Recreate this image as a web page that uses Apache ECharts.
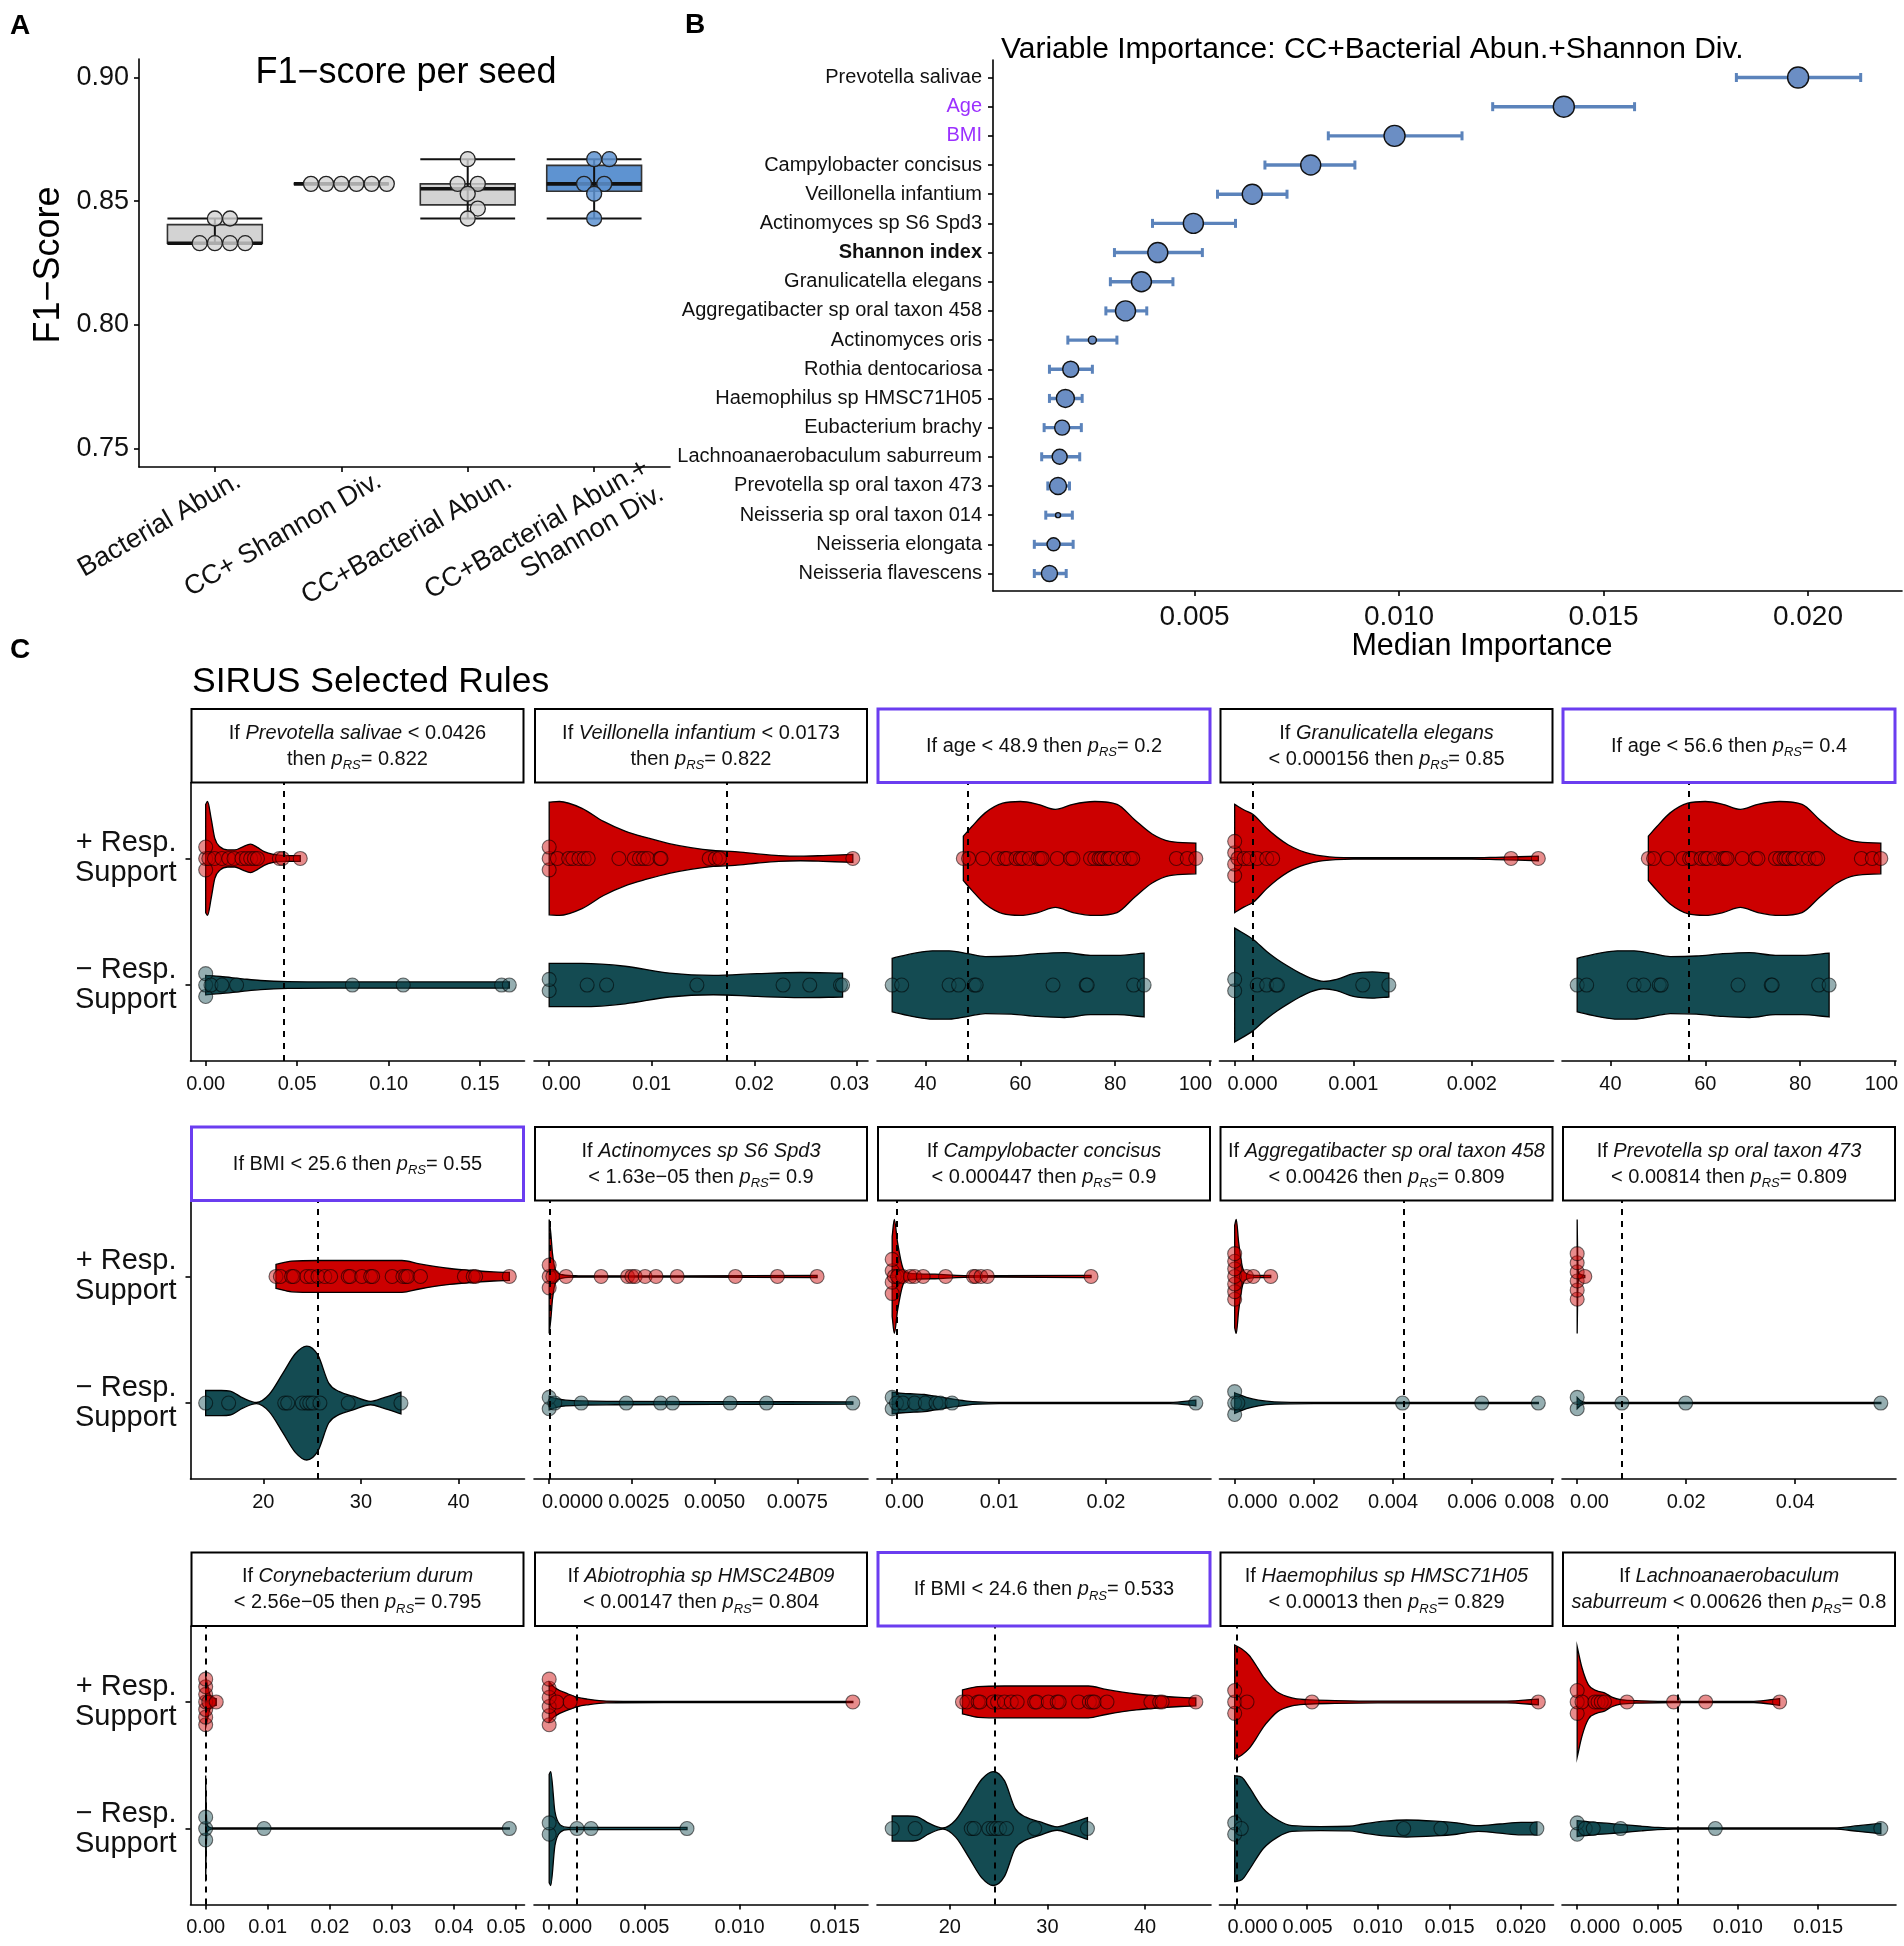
<!DOCTYPE html>
<html>
<head>
<meta charset="utf-8">
<script src="https://cdn.jsdelivr.net/npm/echarts@6.0.0/dist/echarts.min.js"></script>
<style>
html, body { margin: 0; padding: 0; background: #fff; }
#main { width: 1904px; height: 1946px; }
</style>
</head>
<body>
<div id="main"></div>
<script>
// ---------- panel A : F1-score per seed ----------
var modelNames = ['Bacterial Abun.', 'CC+ Shannon Div.', 'CC+Bacterial Abun.', 'CC+Bacterial Abun.+\nShannon Div.'];
var f1Bact = [0.843, 0.843, 0.833, 0.833, 0.833, 0.833];
var f1Shannon = [0.857, 0.857, 0.857, 0.857, 0.857, 0.857];
var f1CcBact = [0.867, 0.857, 0.857, 0.853, 0.847, 0.843];
var f1All = [0.867, 0.867, 0.857, 0.857, 0.853, 0.843];
var f1Jitter = [
  [0, 0.12, -0.12, 0, 0.12, 0.24],
  [-0.24, -0.12, 0, 0.12, 0.24, 0.36],
  [0, -0.08, 0.08, 0, 0.08, 0],
  [0, 0.12, -0.08, 0.08, 0, 0]
];
var f1Limits = [0.75, 0.90];
var f1Ticks = [0.75, 0.80, 0.85, 0.90];

// ---------- panel B : variable importance ----------
var impNames = ['Prevotella salivae', 'Age', 'BMI', 'Campylobacter concisus', 'Veillonella infantium',
  'Actinomyces sp S6 Spd3', 'Shannon index', 'Granulicatella elegans', 'Aggregatibacter sp oral taxon 458',
  'Actinomyces oris', 'Rothia dentocariosa', 'Haemophilus sp HMSC71H05', 'Eubacterium brachy',
  'Lachnoanaerobaculum saburreum', 'Prevotella sp oral taxon 473', 'Neisseria sp oral taxon 014',
  'Neisseria elongata', 'Neisseria flavescens'];
var impMedian = [0.01976, 0.01403, 0.00989, 0.00784, 0.00641, 0.00497, 0.0041, 0.0037, 0.00331,
  0.0025, 0.00197, 0.00184, 0.00176, 0.0017, 0.00166, 0.00166, 0.00155, 0.00145];
var impLow = [0.01825, 0.01229, 0.00827, 0.00672, 0.00556, 0.00397, 0.00304, 0.00294, 0.00283,
  0.0019, 0.00145, 0.00145, 0.00132, 0.00126, 0.00141, 0.00136, 0.00108, 0.00108];
var impHigh = [0.02129, 0.01576, 0.01154, 0.00892, 0.00726, 0.0060, 0.00519, 0.00447, 0.00383,
  0.0031, 0.0025, 0.00225, 0.00223, 0.00219, 0.00194, 0.00201, 0.00203, 0.00186];
var impDotSize = [21, 21, 21, 20, 20, 20, 20, 20, 20, 8, 16, 18, 15, 15, 17, 5, 13, 16];
var impTicks = [0.005, 0.010, 0.015, 0.020];
var clinicalVars = ['Age', 'BMI'];
var diversityVars = ['Shannon index'];

// ---------- panel C : SIRUS rules (values of + / - responders, violin outlines as [x, relative width]) ----------
var prevSalPos = [0, 0, 0, 0.0017, 0.0048, 0.0089, 0.0126, 0.0155, 0.0198, 0.0222, 0.0246, 0.0266, 0.0283, 0.0403, 0.042, 0.0517];
var prevSalPosShape = [[0, 0.95], [0.001, 1.0], [0.003, 0.7], [0.005, 0.35], [0.008, 0.2], [0.012, 0.15], [0.016, 0.15], [0.020, 0.2], [0.0245, 0.25], [0.028, 0.2], [0.032, 0.12], [0.037, 0.07], [0.043, 0.05], [0.0517, 0.05]];
var prevSalNeg = [0, 0, 0, 0.0029, 0.0089, 0.0169, 0.0802, 0.108, 0.1618, 0.166];
var prevSalNegShape = [[0, 0.17], [0.008, 0.15], [0.02, 0.11], [0.03, 0.08], [0.045, 0.06], [0.07, 0.055], [0.166, 0.055]];

var veiInfPos = [0, 0, 0, 0.0008, 0.0019, 0.0023, 0.0029, 0.0034, 0.0038, 0.0068, 0.0083, 0.0088, 0.0092, 0.0096, 0.0108, 0.0109, 0.0156, 0.0162, 0.0166, 0.0296];
var veiInfPosShape = [[0, 0.99], [0.001, 1.0], [0.0032, 0.88], [0.0053, 0.65], [0.0074, 0.48], [0.0096, 0.36], [0.0117, 0.26], [0.0138, 0.19], [0.016, 0.14], [0.0181, 0.12], [0.0203, 0.08], [0.0224, 0.05], [0.0245, 0.04], [0.0267, 0.05], [0.0296, 0.07]];
var veiInfNeg = [0, 0, 0.0037, 0.0056, 0.0144, 0.0228, 0.0254, 0.0284, 0.0286];
var veiInfNegShape = [[0, 0.38], [0.0032, 0.38], [0.0074, 0.33], [0.0117, 0.21], [0.016, 0.17], [0.0203, 0.2], [0.0245, 0.22], [0.0286, 0.21]];

var agePos = [48.0, 49.1, 52.1, 55.3, 56.7, 57.2, 59.1, 60, 60.5, 61.9, 63.7, 64.2, 64.6, 67.8, 70.6, 71.1, 74.8, 75.7, 76.6, 77.0, 77.6, 78.5, 78.9, 80.4, 81.8, 83.2, 83.7, 92.9, 95.2, 97.0];
var agePosShape = [[48, 0.39], [49.8, 0.56], [52.6, 0.8], [56.3, 0.97], [60, 1.0], [63.7, 0.95], [67.4, 0.86], [71.1, 0.95], [75.7, 1.0], [80.4, 0.95], [84.1, 0.68], [87.8, 0.43], [91.5, 0.3], [97, 0.27]];
var ageNeg = [33.0, 35.0, 45.0, 47.0, 50.3, 50.7, 66.9, 73.9, 74.1, 83.9, 86.1];
var ageNegShape = [[33, 0.47], [37.8, 0.56], [41.5, 0.6], [45, 0.6], [49, 0.55], [52.6, 0.5], [58.1, 0.51], [63.7, 0.55], [69.3, 0.57], [74.8, 0.52], [80.4, 0.52], [86.1, 0.56]];

var graElePos = [0, 0, 0, 0, 0.000026, 0.00008, 0.00012, 0.00019, 0.00027, 0.00032, 0.00233, 0.00256];
var graElePosShape = [[0, 0.95], [0.00008, 0.85], [0.000156, 0.77], [0.00027, 0.53], [0.00036, 0.37], [0.00045, 0.24], [0.00055, 0.14], [0.00064, 0.08], [0.00075, 0.04], [0.00085, 0.02], [0.001, 0.012], [0.002, 0.012], [0.0022, 0.02], [0.00256, 0.04]];
var graEleNeg = [0, 0, 0.00019, 0.00027, 0.00035, 0.00036, 0.00108, 0.0013];
var graEleNegShape = [[0, 1.0], [0.000156, 0.8], [0.00027, 0.59], [0.00036, 0.45], [0.00045, 0.33], [0.00055, 0.21], [0.00064, 0.12], [0.00075, 0.065], [0.00086, 0.1], [0.001, 0.2], [0.00116, 0.23], [0.0013, 0.21]];

var bmiPos = [21.3, 21.75, 22.9, 23.1, 24.45, 24.9, 25.6, 26.3, 26.9, 28.7, 28.9, 30.1, 31.0, 31.2, 33.2, 34.3, 34.6, 34.8, 36.1, 40.6, 41.5, 41.75, 45.2];
var bmiPosShape = [[21.3, 0.21], [22.9, 0.27], [25.6, 0.28], [30.1, 0.28], [34.2, 0.28], [36, 0.22], [39.1, 0.14], [41.8, 0.1], [43.6, 0.08], [45.2, 0.07]];
var bmiNeg = [14.1, 16.45, 22.2, 22.5, 24.0, 24.45, 24.76, 25.1, 25.8, 28.7, 34.1];
var bmiNegShape = [[14.1, 0.22], [15.7, 0.22], [16.6, 0.21], [17.9, 0.09], [19.3, 0.01], [20.6, 0.15], [22, 0.52], [23.3, 0.87], [24.45, 1.0], [25.6, 0.84], [26.7, 0.35], [27.8, 0.2], [29.2, 0.12], [31, 0.03], [32.3, 0.09], [34.1, 0.19]];

var actS6Pos = [0, 0, 0, 0.00011, 0.00051, 0.00157, 0.00237, 0.0025, 0.0026, 0.0029, 0.00323, 0.00387, 0.00563, 0.0069, 0.0081];
var actS6PosShape = [[0, 1.0], [0.00005, 0.75], [0.0001, 0.4], [0.0002, 0.1], [0.0004, 0.03], [0.0008, 0.012], [0.004, 0.01], [0.0081, 0.02]];
var actS6Neg = [0, 0, 0.00017, 0.00097, 0.00233, 0.00337, 0.00373, 0.00547, 0.00657, 0.00918];
var actS6NegShape = [[0, 0.12], [0.0002, 0.08], [0.0005, 0.05], [0.002, 0.03], [0.005, 0.025], [0.00918, 0.02]];

var camConPos = [0, 0, 0, 0, 0.0002, 0.0005, 0.001, 0.0017, 0.0021, 0.0029, 0.005, 0.0076, 0.0078, 0.0083, 0.0089, 0.0186];
var camConPosShape = [[0, 0.7], [0.0002, 1.0], [0.0005, 0.6], [0.001, 0.15], [0.0015, 0.06], [0.004, 0.04], [0.006, 0.02], [0.01, 0.012], [0.0186, 0.02]];
var camConNeg = [0, 0, 0.0004, 0.001, 0.0021, 0.0031, 0.0041, 0.0045, 0.0056, 0.0284];
var camConNegShape = [[0, 0.19], [0.001, 0.17], [0.002, 0.16], [0.003, 0.15], [0.004, 0.12], [0.005, 0.09], [0.006, 0.06], [0.007, 0.035], [0.008, 0.02], [0.01, 0.01], [0.026, 0.01], [0.0284, 0.05]];

var aggOtPos = [0, 0, 0, 0, 0, 0, 0, 0.0003, 0.00047, 0.00091];
var aggOtPosShape = [[0, 0.9], [0.00004, 1.0], [0.0001, 0.6], [0.0002, 0.15], [0.0003, 0.05], [0.0005, 0.02], [0.00091, 0.02]];
var aggOtNeg = [0, 0, 0, 0.00008, 0.00424, 0.00624, 0.00767];
var aggOtNegShape = [[0, 0.18], [0.0003, 0.1], [0.0006, 0.05], [0.001, 0.02], [0.002, 0.01], [0.00767, 0.01]];

var prevOtPos = [0, 0, 0, 0, 0, 0, 0.0014];
var prevOtPosShape = [[0, 1.0], [0.0001, 0.3], [0.0003, 0.05], [0.0014, 0.02]];
var prevOtNeg = [0, 0, 0.0082, 0.0199, 0.0557];
var prevOtNegShape = [[0, 0.1], [0.0005, 0.05], [0.0015, 0.01], [0.0557, 0.01]];

var coryDurPos = [0, 0, 0, 0, 0, 0, 0, 0.0005, 0.0017];
var coryDurPosShape = [[0, 0.45], [0.0003, 0.3], [0.0008, 0.1], [0.0017, 0.06]];
var coryDurNeg = [0, 0, 0, 0.0094, 0.0489];
var coryDurNegShape = [[0, 0.93], [0.0001, 0.3], [0.0003, 0.05], [0.001, 0.01], [0.0489, 0.01]];

var abiHmPos = [0, 0, 0, 0, 0, 0, 0.0004, 0.0011, 0.01595];
var abiHmPosShape = [[0, 0.35], [0.0003, 0.25], [0.001, 0.14], [0.0015, 0.08], [0.002, 0.05], [0.003, 0.015], [0.006, 0.01], [0.01595, 0.01]];
var abiHmNeg = [0, 0, 0.00146, 0.0022, 0.00724];
var abiHmNegShape = [[0, 0.95], [0.00008, 1.0], [0.0003, 0.3], [0.0006, 0.06], [0.001, 0.02], [0.00724, 0.02]];

var haeHmPos = [0, 0, 0, 0.00086, 0.0054, 0.0212];
var haeHmPosShape = [[0, 1.0], [0.0005, 0.93], [0.001, 0.82], [0.0015, 0.64], [0.002, 0.44], [0.0025, 0.29], [0.003, 0.17], [0.004, 0.07], [0.005, 0.04], [0.007, 0.025], [0.01, 0.015], [0.019, 0.015], [0.0212, 0.05]];
var haeHmNeg = [0, 0, 0.00046, 0.0118, 0.0144, 0.0211];
var haeHmNegShape = [[0, 0.93], [0.0005, 0.9], [0.001, 0.73], [0.002, 0.35], [0.003, 0.15], [0.004, 0.05], [0.006, 0.035], [0.008, 0.04], [0.009, 0.08], [0.0105, 0.13], [0.012, 0.15], [0.014, 0.13], [0.0155, 0.1], [0.017, 0.05], [0.0185, 0.08], [0.02, 0.11], [0.0211, 0.11]];

var lacSabPos = [0, 0, 0, 0.0003, 0.0011, 0.0013, 0.0015, 0.0017, 0.0031, 0.006, 0.008, 0.0126];
var lacSabPosShape = [[0, 0.97], [0.0003, 0.6], [0.0007, 0.3], [0.0012, 0.2], [0.0017, 0.16], [0.0022, 0.08], [0.0027, 0.04], [0.004, 0.02], [0.006, 0.01], [0.011, 0.01], [0.0126, 0.06]];
var lacSabNeg = [0, 0, 0.0005, 0.001, 0.0027, 0.0086, 0.0189];
var lacSabNegShape = [[0, 0.14], [0.001, 0.11], [0.002, 0.09], [0.003, 0.065], [0.004, 0.04], [0.005, 0.02], [0.006, 0.01], [0.016, 0.01], [0.0175, 0.05], [0.0189, 0.09]];

var ruleVars = ['prevSal', 'veiInf', 'age', 'graEle', 'age', 'bmi', 'actS6', 'camCon', 'aggOt', 'prevOt', 'coryDur', 'abiHm', 'bmi', 'haeHm', 'lacSab'];
var ruleThreshold = [0.0426, 0.0173, 48.9, 0.000156, 56.6, 25.6, 0.0000163, 0.000447, 0.00426, 0.00814, 0.0000256, 0.00147, 24.6, 0.00013, 0.00626];
var ruleText = [
  'If {i|Prevotella salivae} < 0.0426\nthen {i|p}{s|RS}= 0.822',
  'If {i|Veillonella infantium} < 0.0173\nthen {i|p}{s|RS}= 0.822',
  'If age < 48.9 then {i|p}{s|RS}= 0.2',
  'If {i|Granulicatella elegans}\n< 0.000156 then {i|p}{s|RS}= 0.85',
  'If age < 56.6 then {i|p}{s|RS}= 0.4',
  'If BMI < 25.6 then {i|p}{s|RS}= 0.55',
  'If {i|Actinomyces sp S6 Spd3}\n< 1.63e\u221205 then {i|p}{s|RS}= 0.9',
  'If {i|Campylobacter concisus}\n< 0.000447 then {i|p}{s|RS}= 0.9',
  'If {i|Aggregatibacter sp oral taxon 458}\n< 0.00426 then {i|p}{s|RS}= 0.809',
  'If {i|Prevotella sp oral taxon 473}\n< 0.00814 then {i|p}{s|RS}= 0.809',
  'If {i|Corynebacterium durum}\n< 2.56e\u221205 then {i|p}{s|RS}= 0.795',
  'If {i|Abiotrophia sp HMSC24B09}\n< 0.00147 then {i|p}{s|RS}= 0.804',
  'If BMI < 24.6 then {i|p}{s|RS}= 0.533',
  'If {i|Haemophilus sp HMSC71H05}\n< 0.00013 then {i|p}{s|RS}= 0.829',
  'If {i|Lachnoanaerobaculum}\n{i|saburreum} < 0.00626 then {i|p}{s|RS}= 0.8'
];
var ruleClinical = [false, false, true, false, true, true, false, false, false, false, false, false, true, false, false];
var ruleTicks = [
  [0, 0.05, 0.10, 0.15], [0, 0.01, 0.02, 0.03], [40, 60, 80, 100], [0, 0.001, 0.002], [40, 60, 80, 100],
  [20, 30, 40], [0, 0.0025, 0.005, 0.0075], [0, 0.01, 0.02], [0, 0.002, 0.004, 0.006, 0.008], [0, 0.02, 0.04],
  [0, 0.01, 0.02, 0.03, 0.04, 0.05], [0, 0.005, 0.010, 0.015], [20, 30, 40], [0, 0.005, 0.010, 0.015, 0.020], [0, 0.005, 0.010, 0.015]
];
var ruleDecimals = [2, 2, 0, 3, 0, 0, 4, 2, 3, 2, 2, 3, 0, 3, 3];
var supportLabels = ['\u2212 Resp.\nSupport', '+ Resp.\nSupport'];

var violins = {
  prevSal: [prevSalNeg, prevSalNegShape, prevSalPos, prevSalPosShape],
  veiInf: [veiInfNeg, veiInfNegShape, veiInfPos, veiInfPosShape],
  age: [ageNeg, ageNegShape, agePos, agePosShape],
  graEle: [graEleNeg, graEleNegShape, graElePos, graElePosShape],
  bmi: [bmiNeg, bmiNegShape, bmiPos, bmiPosShape],
  actS6: [actS6Neg, actS6NegShape, actS6Pos, actS6PosShape],
  camCon: [camConNeg, camConNegShape, camConPos, camConPosShape],
  aggOt: [aggOtNeg, aggOtNegShape, aggOtPos, aggOtPosShape],
  prevOt: [prevOtNeg, prevOtNegShape, prevOtPos, prevOtPosShape],
  coryDur: [coryDurNeg, coryDurNegShape, coryDurPos, coryDurPosShape],
  abiHm: [abiHmNeg, abiHmNegShape, abiHmPos, abiHmPosShape],
  haeHm: [haeHmNeg, haeHmNegShape, haeHmPos, haeHmPosShape],
  lacSab: [lacSabNeg, lacSabNegShape, lacSabPos, lacSabPosShape]
};

// ---------- style ----------
var FONT = 'Liberation Sans, Arial, Helvetica, sans-serif';
var RED = '#CC0000', TEAL = '#144B52';
var GREY = '#D3D3D3', BLUE = '#5E93D1';
var DOT = '#6B8EC4', BAR = '#5B83BB';
var PURPLE_TXT = '#9B30FF', PURPLE_BOX = '#6B3DF0';
var VMAX = 0.45;
var colLeft = [190.5, 534, 877, 1219.5, 1562], colWidth = 334;
var stripTop = [708, 1126, 1551.5], stripH = 74.5, plotH = 278.5;
var f1LabelShift = [24, 38, 42, 60];   // px, rotated label anchor offset to the right of each tick

var measureCtx = document.createElement('canvas').getContext('2d');
function textWidth(txt, size) { measureCtx.font = size + 'px ' + FONT; return measureCtx.measureText(txt).width; }

function axisLine(show) { return { show: show, onZero: false, lineStyle: { color: '#000', width: 1.6 } }; }
function axisTick(show, vals) { return { show: show, length: 5, customValues: vals, lineStyle: { color: '#000', width: 1.6 } }; }

function quantile(arr, p) {
  var s = arr.slice().sort(function (a, b) { return a - b; });
  var h = (s.length - 1) * p, lo = Math.floor(h);
  return lo + 1 < s.length ? s[lo] + (h - lo) * (s[lo + 1] - s[lo]) : s[lo];
}
function boxStats(arr) {
  var q1 = quantile(arr, 0.25), q3 = quantile(arr, 0.75), iqr = q3 - q1;
  var inRange = arr.filter(function (v) { return v >= q1 - 1.5 * iqr && v <= q3 + 1.5 * iqr; });
  return [Math.min.apply(null, inRange), q1, quantile(arr, 0.5), q3, Math.max.apply(null, inRange)];
}

// monotone cubic segments through pixel points
function monoSegs(pts) {
  var n = pts.length, d = [], m = [], i;
  for (i = 0; i < n - 1; i++) d.push((pts[i + 1][1] - pts[i][1]) / (pts[i + 1][0] - pts[i][0]));
  m[0] = d[0]; m[n - 1] = d[n - 2];
  for (i = 1; i < n - 1; i++) m[i] = (d[i - 1] * d[i] <= 0) ? 0 : (d[i - 1] + d[i]) / 2;
  for (i = 0; i < n - 1; i++) {
    if (d[i] === 0) { m[i] = 0; m[i + 1] = 0; continue; }
    var a = m[i] / d[i], b = m[i + 1] / d[i], s = a * a + b * b;
    if (s > 9) { var t = 3 / Math.sqrt(s); m[i] = t * a * d[i]; m[i + 1] = t * b * d[i]; }
  }
  var segs = [];
  for (i = 0; i < n - 1; i++) {
    var h = pts[i + 1][0] - pts[i][0];
    segs.push([pts[i], [pts[i][0] + h / 3, pts[i][1] + m[i] * h / 3], [pts[i + 1][0] - h / 3, pts[i + 1][1] - m[i + 1] * h / 3], pts[i + 1]]);
  }
  return segs;
}
function violinPath(shape, yc, api) {
  var top = [], bot = [];
  shape.forEach(function (p) {
    var a = api.coord([p[0], yc + p[1] * VMAX]), b = api.coord([p[0], yc - p[1] * VMAX]);
    if (top.length && a[0] - top[top.length - 1][0] < 0.3) return;
    var mid = (a[1] + b[1]) / 2, half = Math.max((b[1] - a[1]) / 2, 0.4);
    top.push([a[0], mid - half]);
    bot.push([b[0], mid + half]);
  });
  var f = function (v) { return v.toFixed(2); };
  var st = monoSegs(top), sb = monoSegs(bot);
  var d = 'M' + f(top[0][0]) + ' ' + f(top[0][1]);
  st.forEach(function (s) { d += ' C' + f(s[1][0]) + ' ' + f(s[1][1]) + ' ' + f(s[2][0]) + ' ' + f(s[2][1]) + ' ' + f(s[3][0]) + ' ' + f(s[3][1]); });
  d += ' L' + f(bot[bot.length - 1][0]) + ' ' + f(bot[bot.length - 1][1]);
  for (var i = sb.length - 1; i >= 0; i--) {
    var s = sb[i];
    d += ' C' + f(s[2][0]) + ' ' + f(s[2][1]) + ' ' + f(s[1][0]) + ' ' + f(s[1][1]) + ' ' + f(s[0][0]) + ' ' + f(s[0][1]);
  }
  return d + ' Z';
}
// beeswarm-like vertical spread for identical values
function spread(values) {
  var groups = {}, out = [];
  values.forEach(function (v) { var k = v.toFixed(8); (groups[k] = groups[k] || []).push(v); });
  Object.keys(groups).forEach(function (k) {
    var g = groups[k], n = g.length, step = n > 1 ? Math.min(0.09, 0.36 / (n - 1)) : 0;
    g.forEach(function (v, i) { out.push([v, (i - (n - 1) / 2) * step]); });
  });
  return out;
}
// push tick labels apart / inside the panel (pixel centres)
function layoutLabels(px, w, lb, rb, gap) {
  var n = px.length, p = px.slice(), i;
  for (i = 0; i < n; i++) {
    var minP = i === 0 ? lb + w[0] / 2 : p[i - 1] + w[i - 1] / 2 + gap + w[i] / 2;
    if (p[i] < minP) p[i] = minP;
  }
  for (i = n - 1; i >= 0; i--) {
    var maxP = i === n - 1 ? rb - w[i] / 2 : p[i + 1] - w[i + 1] / 2 - gap - w[i] / 2;
    if (p[i] > maxP) p[i] = maxP;
  }
  return p;
}

var grids = [], xAxes = [], yAxes = [], series = [], graphics = [];

// ---------- panel A ----------
var f1Groups = [f1Bact, f1Shannon, f1CcBact, f1All];
var f1Pad = (f1Limits[1] - f1Limits[0]) * 0.05;
var aWidth = 531, aUnit = aWidth / 4.2;
var f1LabelPos = f1LabelShift.map(function (s, i) { return i + s / aUnit; });
grids.push({ left: 139, top: 59, width: aWidth, height: 408, containLabel: false, outerBoundsMode: 'none' });
xAxes.push({
  gridIndex: 0, type: 'value', min: -0.6, max: 3.6,
  axisLine: axisLine(true), axisTick: axisTick(true, [0, 1, 2, 3]), splitLine: { show: false },
  axisLabel: { customValues: f1LabelPos, rotate: 30, fontSize: 27, color: '#111', margin: 12, fontFamily: FONT, lineHeight: 30,
    showMinLabel: true, showMaxLabel: true,
    formatter: function (v) { return modelNames[Math.floor(v + 1e-6)]; } }
});
yAxes.push({
  gridIndex: 0, type: 'value', min: f1Limits[0] - f1Pad, max: f1Limits[1] + f1Pad,
  axisLine: axisLine(true), axisTick: axisTick(true, f1Ticks), splitLine: { show: false },
  axisLabel: { customValues: f1Ticks, fontSize: 27, color: '#111', margin: 10, fontFamily: FONT,
    formatter: function (v) { return v.toFixed(2); } }
});
series.push({
  type: 'custom', xAxisIndex: 0, yAxisIndex: 0, z: 2,
  encode: { x: 0, y: [1, 2, 3, 4, 5] },
  data: f1Groups.map(function (g, i) { return [i].concat(boxStats(g)); }),
  renderItem: function (params, api) {
    var x = api.value(0), hw = 0.375;
    var lo = api.value(1), q1 = api.value(2), md = api.value(3), q3 = api.value(4), hi = api.value(5);
    var a = api.coord([x - hw, q3]), b = api.coord([x + hw, q1]);
    var mL = api.coord([x - hw, md]), mR = api.coord([x + hw, md]);
    var pLo = api.coord([x, lo]), pHi = api.coord([x, hi]);
    var lLo = api.coord([x - hw, lo]), rLo = api.coord([x + hw, lo]);
    var lHi = api.coord([x - hw, hi]), rHi = api.coord([x + hw, hi]);
    var ln = function (p, q, w) { return { type: 'line', shape: { x1: p[0], y1: p[1], x2: q[0], y2: q[1] }, style: { stroke: '#111', lineWidth: w } }; };
    return { type: 'group', children: [
      { type: 'rect', shape: { x: a[0], y: a[1], width: b[0] - a[0], height: b[1] - a[1] }, style: { fill: x === 3 ? BLUE : GREY, stroke: '#333', lineWidth: 1.6 } },
      ln(mL, mR, 3.6),
      ln(pLo, pHi, 2), ln(lLo, rLo, 2), ln(lHi, rHi, 2)
    ] };
  }
});
var f1Points = [];
f1Groups.forEach(function (g, i) { g.forEach(function (v, j) { f1Points.push([i + f1Jitter[i][j], v, i]); }); });
series.push({
  type: 'scatter', xAxisIndex: 0, yAxisIndex: 0, z: 3, symbolSize: 15, data: f1Points,
  itemStyle: { borderColor: '#222', borderWidth: 1.3, opacity: 1,
    color: function (p) { return p.data[2] === 3 ? 'rgba(94,147,209,0.85)' : 'rgba(211,211,211,0.8)'; } }
});

// ---------- panel B ----------
var impAll = impLow.concat(impHigh);
var impMin = Math.min.apply(null, impAll), impMax = Math.max.apply(null, impAll), impPad = (impMax - impMin) * 0.05;
var impIdx = impNames.map(function (n, i) { return i; });
grids.push({ left: 993, top: 60, width: 909, height: 531, containLabel: false, outerBoundsMode: 'none' });
xAxes.push({
  gridIndex: 1, type: 'value', min: impMin - impPad, max: impMax + impPad,
  axisLine: axisLine(true), axisTick: axisTick(true, impTicks), splitLine: { show: false },
  axisLabel: { customValues: impTicks, fontSize: 28, color: '#111', margin: 12, fontFamily: FONT,
    formatter: function (v) { return v.toFixed(3); } }
});
yAxes.push({
  gridIndex: 1, type: 'value', min: -0.6, max: impNames.length - 0.4, inverse: true,
  axisLine: axisLine(true), axisTick: axisTick(true, impIdx), splitLine: { show: false },
  axisLabel: { customValues: impIdx, fontSize: 20, color: '#111', margin: 11, fontFamily: FONT,
    showMinLabel: true, showMaxLabel: true,
    formatter: function (v) {
      var n = impNames[Math.round(v)];
      if (clinicalVars.indexOf(n) >= 0) return '{p|' + n + '}';
      if (diversityVars.indexOf(n) >= 0) return '{b|' + n + '}';
      return n;
    },
    rich: { p: { color: PURPLE_TXT, fontSize: 20, fontFamily: FONT }, b: { color: '#111', fontWeight: 'bold', fontSize: 20, fontFamily: FONT } } }
});
series.push({
  type: 'custom', xAxisIndex: 1, yAxisIndex: 1, z: 2,
  encode: { x: [0, 1], y: 2 },
  data: impIdx.map(function (i) { return [impLow[i], impHigh[i], i]; }),
  renderItem: function (params, api) {
    var lo = api.coord([api.value(0), api.value(2)]), hi = api.coord([api.value(1), api.value(2)]), c = 4.5;
    return { type: 'group', children: [
      { type: 'line', shape: { x1: lo[0], y1: lo[1], x2: hi[0], y2: hi[1] }, style: { stroke: BAR, lineWidth: 3.4 } },
      { type: 'line', shape: { x1: lo[0], y1: lo[1] - c, x2: lo[0], y2: lo[1] + c }, style: { stroke: BAR, lineWidth: 3 } },
      { type: 'line', shape: { x1: hi[0], y1: hi[1] - c, x2: hi[0], y2: hi[1] + c }, style: { stroke: BAR, lineWidth: 3 } }
    ] };
  }
});
series.push({
  type: 'scatter', xAxisIndex: 1, yAxisIndex: 1, z: 3,
  data: impIdx.map(function (i) { return [impMedian[i], i]; }),
  symbolSize: function (v, p) { return impDotSize[p.dataIndex]; },
  itemStyle: { color: DOT, borderColor: '#111', borderWidth: 1.4, opacity: 1 }
});

// ---------- panel C ----------
ruleVars.forEach(function (key, k) {
  var r = Math.floor(k / 5), c = k % 5, gi = k + 2;
  var v = violins[key];
  var all = v[0].concat(v[2]);
  v[1].concat(v[3]).forEach(function (p) { all.push(p[0]); });
  var lo = Math.min.apply(null, all), hi = Math.max.apply(null, all), pad = (hi - lo) * 0.05;
  var xmin = lo - pad, xmax = hi + pad;
  var left = colLeft[c], top = stripTop[r] + stripH;
  var dec = ruleDecimals[k], ticks = ruleTicks[k];
  // tick label positions kept inside their own panel and apart from each other
  var toPx = function (t) { return left + (t - xmin) / (xmax - xmin) * colWidth; };
  var toVal = function (p) { return xmin + (p - left) / colWidth * (xmax - xmin); };
  var texts = ticks.map(function (t) { return t.toFixed(dec); });
  var widths = texts.map(function (t) { return textWidth(t, 20); });
  var lb = c === 0 ? left - 40 : left + 8;
  var rb = c < 4 ? left + colWidth + 1 : 1898;
  var labelPx = layoutLabels(ticks.map(toPx), widths, lb, rb, 5);
  var labelVals = labelPx.map(toVal);
  var labelText = {};
  labelVals.forEach(function (lv, i) { labelText[lv.toPrecision(12)] = texts[i]; });
  grids.push({ left: left, top: top, width: colWidth, height: plotH, containLabel: false, outerBoundsMode: 'none' });
  xAxes.push({
    gridIndex: gi, type: 'value', min: xmin, max: xmax,
    axisLine: axisLine(true), axisTick: axisTick(true, ticks), splitLine: { show: false },
    axisLabel: { customValues: labelVals, fontSize: 20, color: '#111', margin: 13, fontFamily: FONT,
      showMinLabel: true, showMaxLabel: true, hideOverlap: false,
      formatter: function (val, idx) {
        var t = labelText[Number(val).toPrecision(12)];
        return t !== undefined ? t : texts[idx];
      } }
  });
  yAxes.push({
    gridIndex: gi, type: 'value', min: -0.6, max: 1.6,
    axisLine: axisLine(c === 0), axisTick: axisTick(c === 0, [0, 1]), splitLine: { show: false },
    axisLabel: { show: c === 0, customValues: [0, 1], fontSize: 29, lineHeight: 30, color: '#111', margin: 14, fontFamily: FONT,
      showMinLabel: true, showMaxLabel: true,
      formatter: function (val) { return supportLabels[Math.round(val)]; } }
  });
  series.push({
    type: 'custom', xAxisIndex: gi, yAxisIndex: gi, z: 2,
    encode: { x: 0, y: 1 },
    data: [[lo, 0], [lo, 1]],
    renderItem: function (params, api) {
      var g = api.value(1);
      return { type: 'path', shape: { pathData: violinPath(g === 1 ? v[3] : v[1], g, api) },
        style: { fill: g === 1 ? RED : TEAL, stroke: '#000', lineWidth: 1.3 } };
    }
  });
  var pts = [];
  [0, 1].forEach(function (g) {
    spread(v[g === 1 ? 2 : 0]).forEach(function (p) { pts.push([p[0], g + p[1], g]); });
  });
  series.push({
    type: 'scatter', xAxisIndex: gi, yAxisIndex: gi, z: 3, symbolSize: 14, data: pts,
    itemStyle: { borderColor: 'rgba(0,0,0,0.55)', borderWidth: 1.1, opacity: 1,
      color: function (p) { return p.data[2] === 1 ? 'rgba(204,0,0,0.45)' : 'rgba(20,75,82,0.45)'; } },
    markLine: { silent: true, symbol: ['none', 'none'], precision: 10, label: { show: false }, animation: false,
      lineStyle: { color: '#000', type: [6, 6], width: 2 },
      data: [{ xAxis: ruleThreshold[k] }] }
  });
  // facet strip
  var clin = ruleClinical[k];
  graphics.push({ type: 'rect', shape: { x: left + 1, y: stripTop[r] + 1, width: colWidth - 2, height: stripH - 1 },
    style: { fill: '#fff', stroke: clin ? PURPLE_BOX : '#000', lineWidth: clin ? 3 : 2 }, z: 10 });
  graphics.push({ type: 'text', x: left + colWidth / 2, y: stripTop[r] + stripH / 2 + 1, z: 11,
    style: { text: ruleText[k], fontSize: 20, fontFamily: FONT, fill: '#111', lineHeight: 26,
      align: 'center', verticalAlign: 'middle', textAlign: 'center', textVerticalAlign: 'middle',
      rich: {
        i: { fontStyle: 'italic', fontSize: 20, fontFamily: FONT, lineHeight: 26, fill: '#111', color: '#111' },
        s: { fontStyle: 'italic', fontSize: 13, fontFamily: FONT, verticalAlign: 'bottom', fill: '#111', color: '#111' }
      } } });
});

// ---------- titles and panel letters ----------
function label(txt, x, y, size, opts) {
  opts = opts || {};
  return { type: 'text', x: x, y: y, rotation: opts.rotation || 0, z: 12,
    style: { text: txt, fontSize: size, fontWeight: opts.bold ? 'bold' : 'normal', fontFamily: FONT, fill: '#000',
      align: opts.align || 'center', textAlign: opts.align || 'center', verticalAlign: 'middle', textVerticalAlign: 'middle' } };
}
graphics.push(label('A', 20, 26, 28, { bold: true }));
graphics.push(label('B', 695, 25, 28, { bold: true }));
graphics.push(label('C', 20, 650, 28, { bold: true }));
graphics.push(label('F1\u2212score per seed', 406, 73, 36));
graphics.push(label('F1\u2212Score', 49, 265, 36, { rotation: Math.PI / 2 }));
graphics.push(label('Variable Importance: CC+Bacterial Abun.+Shannon Div.', 1001, 50, 30, { align: 'left' }));
graphics.push(label('Median Importance', 1482, 647, 30.5));
graphics.push(label('SIRUS Selected Rules', 192, 682, 35.5, { align: 'left' }));

var myChart = echarts.init(document.getElementById('main'));
myChart.setOption({
  animation: false,
  backgroundColor: '#fff',
  textStyle: { fontFamily: FONT },
  grid: grids,
  xAxis: xAxes,
  yAxis: yAxes,
  series: series,
  graphic: { elements: graphics }
});
</script>
</body>
</html>
